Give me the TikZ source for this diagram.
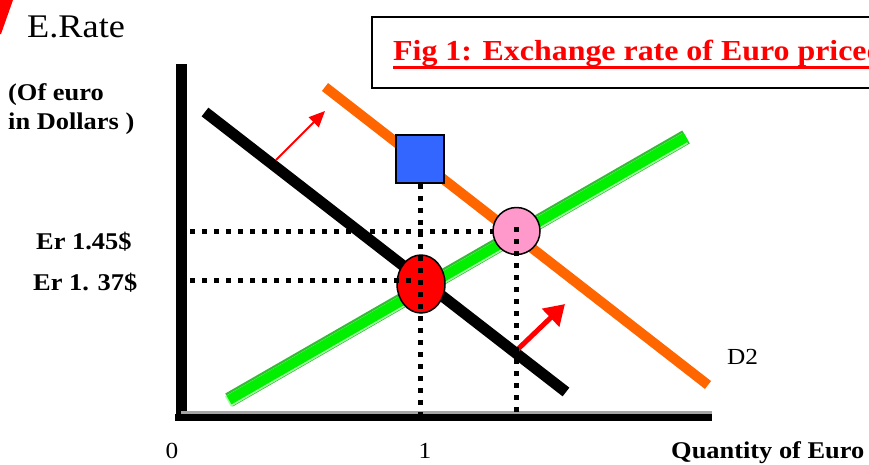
\documentclass[tikz,border=0pt]{standalone}
\usepackage{fontspec}
\setmainfont{Liberation Serif}[FakeStretch=1.1]
\usetikzlibrary{arrows.meta,shapes.geometric}
\definecolor{orng}{HTML}{FF6600}
\definecolor{grn}{HTML}{00F000}
\definecolor{grnlight}{HTML}{A0FFA0}
\definecolor{grndark}{HTML}{33BB33}
\definecolor{bluebox}{HTML}{3366FF}
\definecolor{pinkc}{HTML}{FF99CC}
\tikzset{
  lbl/.style={inner sep=0pt, font=\fontsize{24}{28}\selectfont\bfseries},
  dotline/.style={line width=5pt, dash pattern=on 5pt off 7pt},
  marker/.style={draw=black, line width=1.5pt},
}
\begin{document}
\begin{tikzpicture}[x=1pt,y=-1pt]
\useasboundingbox (0,0) rectangle (869,464);
% red wedge top-left
\fill[red] (0,0) -- (13,0) -- (1,34) -- (0,34) -- cycle;
% texts
\node[inner sep=0pt, anchor=base west, font=\fontsize{33}{36}\selectfont] (erate) at (27,37) {E.Rate};
\node[lbl, anchor=base west] (ofeuro) at (8,100) {(Of euro};
\node[lbl, anchor=base west] (indol) at (8,129) {in Dollars )};
\node[lbl, anchor=base west] (er145) at (36,249) {Er 1.45\$};
\node[lbl, anchor=base west] (er137) at (33,290) {Er 1. 37\$};
\node[inner sep=0pt, anchor=base, font=\fontsize{23}{26}\selectfont] (zero) at (172,458) {0};
\node[inner sep=0pt, anchor=base, font=\fontsize{23}{26}\selectfont] (one) at (425,458) {1};
\node[lbl, anchor=base west] (qty) at (671,458) {Quantity of Euro};
\node[inner sep=0pt, anchor=base west, font=\fontsize{23}{26}\selectfont] (d2) at (727,364) {D2};
% title box
\draw[line width=2.5pt] (880,17) -- (372,17) -- (372,88) -- (880,88);
\node[inner sep=0pt, anchor=base west, text=red, font=\fontsize{29}{32}\selectfont\bfseries] (title) at (393,60) {Fig 1: Exchange rate of Euro priced};
\fill[red] (393,66) rectangle (880,69);
% axes
\coordinate (ytop) at (181,64);
\coordinate (orig) at (181,421);
\coordinate (xend) at (712,417.5);
\draw[line width=11pt] (ytop) -- (orig);
\draw[line width=3pt, gray!70] (181,412.5) -- (712,412.5);
\draw[line width=7pt] (175,417.5) -- (xend);
% demand D1 (black)
\coordinate (d1a) at (205,112);
\coordinate (d1b) at (566,392);
\draw[line width=11pt] (d1a) -- (d1b);
% supply (green, 3D)
\coordinate (sa) at (229,400);
\coordinate (sb) at (686,137);
\draw[line width=15pt, grndark] (sa) -- (sb);
\draw[line width=12pt, grnlight] ([xshift=-1pt,yshift=-1.5pt]sa) -- ([xshift=-1pt,yshift=-1.5pt]sb);
\draw[line width=10pt, grn] (sa) -- (sb);
% demand D2 (orange)
\coordinate (d2a) at (325,87);
\coordinate (d2b) at (708,385);
\draw[line width=10pt, orng] (d2a) -- (d2b);
% arrows
\coordinate (a1s) at (276,160);
\coordinate (a1e) at (325,111);
\draw[red, line width=1.8pt, -{Triangle[length=16pt,width=14pt]}] (a1s) -- (a1e);
\coordinate (a2s) at (517,350);
\coordinate (a2e) at (565,304);
\draw[red, line width=5pt, -{Triangle[length=20pt,width=24pt]}] (a2s) -- (a2e);
% dotted guide lines
\coordinate (h145) at (190,231);
\coordinate (h137) at (190,280);
\coordinate (pinkc0) at (516.5,231);
\draw[dotline] (h145) -- (pinkc0);
\node[marker, fill=pinkc, circle, minimum size=47pt, inner sep=0pt] (pink) at (pinkc0) {};
\node[marker, fill=bluebox, rectangle, minimum size=48pt, inner sep=0pt] (blue) at (420,159) {};
\node[marker, fill=red, ellipse, minimum width=48pt, minimum height=58pt, inner sep=0pt] (redpt) at (421,284) {};
\coordinate (b1) at (420,420);
\coordinate (b2) at (516.5,420);
\draw[dotline] (blue.south) -- (b1);
\draw[dotline] (h137) -- (414,280);
\draw[dotline] ([yshift=4pt]pink.center) -- (b2);
\end{tikzpicture}
\end{document}
